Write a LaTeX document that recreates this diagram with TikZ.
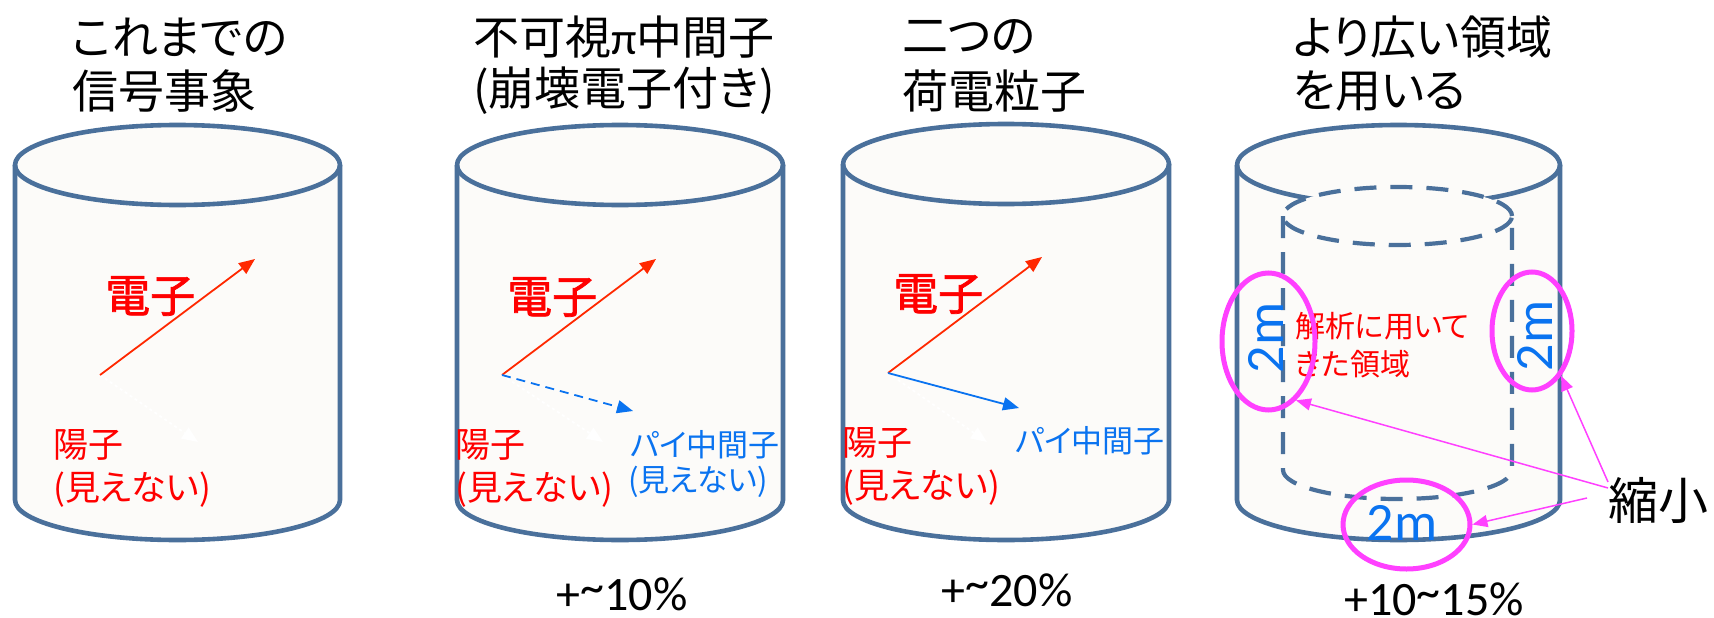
\documentclass[tikz,border=0pt]{standalone}
\usepackage{fontspec}
\setmainfont{Carlito}
\newfontfamily\lat{Carlito}
\newfontfamily\jp[RawFeature=+palt]{Noto Sans CJK JP}
\newfontfamily\jpb[RawFeature=+palt,FakeBold=1.6]{Noto Sans CJK JP}
\usetikzlibrary{arrows.meta,shapes.geometric}
\definecolor{canblue}{RGB}{74,112,155}
\definecolor{canbg}{RGB}{252,251,249}
\definecolor{ered}{RGB}{255,40,0}
\definecolor{myblue}{RGB}{10,115,240}
\definecolor{mag}{RGB}{255,64,255}
\newcommand{\mycan}[6]{%
 \path[canfill] ({#1-#2},#3) -- ({#1-#2},#4) arc[start angle=180,end angle=360,x radius=#2pt,y radius=#5pt] -- ({#1+#2},#3) arc[start angle=0,end angle=180,x radius=#2pt,y radius=#5pt] -- cycle;
 \draw[#6] ({#1-#2},#3) -- ({#1-#2},#4) arc[start angle=180,end angle=360,x radius=#2pt,y radius=#5pt] -- ({#1+#2},#3);
 \draw[#6] (#1,#3) ellipse[x radius=#2pt,y radius=#5pt];
}
\newcommand{\hitilde}{\raisebox{7pt}{\textasciitilde}}
\tikzset{
 canline/.style={draw=canblue, line width=4.6pt, line join=round},
 canfill/.style={fill=canbg},
 innerline/.style={draw=canblue, line width=4.2pt, dash pattern=on 22pt off 14pt},
 ttl/.style={anchor=west, inner sep=0pt, font=\jp\fontsize{46}{50}\selectfont},
 elab/.style={anchor=west, inner sep=0pt, text=red, font=\jpb\fontsize{45}{48}\selectfont},
 rlab/.style={anchor=west, inner sep=0pt, text=red, font=\jp\fontsize{35}{38}\selectfont},
 blab/.style={anchor=west, inner sep=0pt, text=myblue, font=\jp\fontsize{31}{34}\selectfont},
 alab/.style={anchor=west, inner sep=0pt, text=red, font=\jp\fontsize{30}{33}\selectfont},
 pct/.style={inner sep=2pt, font=\lat\fontsize{48}{50}\selectfont},
 twom/.style={inner sep=0pt, text=myblue, font=\lat\fontsize{54}{58}\selectfont},
 eline/.style={draw=ered, line width=1.8pt, -{Triangle[length=16pt,width=13pt]}},
 bline/.style={draw=myblue, line width=1.8pt, -{Triangle[length=16pt,width=13pt]}},
 wline/.style={draw=white, line width=1.8pt, dashed, -{Triangle[length=16pt,width=13pt]}},
 magell/.style={draw=mag, line width=5pt, ellipse, inner sep=0pt},
 magarrow/.style={draw=mag, line width=1.5pt, -{Triangle[length=15pt,width=12pt]}},
}
\begin{document}
\begin{tikzpicture}[x=1pt,y=-1pt]
\useasboundingbox (0,0) rectangle (1714,618);
\fill[white] (0,0) rectangle (1714,618);

% titles
\node[ttl] (t1a) at (72,37) {これまでの};
\node[ttl] (t1b) at (72,91) {信号事象};
\node[ttl] (t2a) at (473,37) {不可視{\lat π}中間子};
\node[ttl] (t2b) at (473,91) {(崩壊電子付き)};
\node[ttl] (t3a) at (902,37) {二つの};
\node[ttl] (t3b) at (902,91) {荷電粒子};
\node[ttl] (t4a) at (1293,37) {より広い領域};
\node[ttl] (t4b) at (1293,91) {を用いる};

% cylinders
\mycan{177.5}{162.5}{165}{500}{40}{canline}
\mycan{620}{163}{165}{500}{40}{canline}
\mycan{1006}{163}{164}{500}{40}{canline}
\mycan{1398.5}{161.5}{165}{500}{40}{canline}
\mycan{1397.5}{114.5}{216}{470}{29}{innerline}

% cylinder 1
\coordinate (v1) at (100,375);
\coordinate (ea1) at (255,259);
\coordinate (pa1) at (198,442);
\draw[wline] (v1) -- (pa1);
\draw[eline] (v1) -- (ea1);
\node[elab] (el1) at (105,296) {電子};
\node[rlab] (pr1) at (53,445) {陽子};
\node[rlab] (pi1) at (53,490) {(見えない)};

% cylinder 2
\coordinate (v2) at (502,375);
\coordinate (ea2) at (656,259);
\coordinate (pa2) at (603,442);
\coordinate (ba2) at (633,411);
\draw[wline] (v2) -- (pa2);
\draw[eline] (v2) -- (ea2);
\draw[bline, dash pattern=on 9pt off 6pt] (v2) -- (ba2);
\node[elab] (el2) at (507,297) {電子};
\node[rlab] (pr2) at (455,445) {陽子};
\node[rlab] (pi2) at (455,490) {(見えない)};
\node[blab] (bm2) at (630,445) {パイ中間子};
\node[blab] (bi2) at (628,482) {(見えない)};
\node[pct] (p1) at (622,594) {+\hitilde10\%};

% cylinder 3
\coordinate (v3) at (888,373);
\coordinate (ea3) at (1042,257);
\coordinate (pa3) at (987,442);
\coordinate (ba3) at (1019,408);
\draw[wline] (v3) -- (pa3);
\draw[eline] (v3) -- (ea3);
\draw[bline] (v3) -- (ba3);
\node[elab] (el3) at (893,294) {電子};
\node[rlab] (pr3) at (842,443) {陽子};
\node[rlab] (pi3) at (842,488) {(見えない)};
\node[blab] (bm3) at (1015,441) {パイ中間子};
\node[pct] (p2) at (1007,590) {+\hitilde20\%};

% cylinder 4
\node[alab] (an1) at (1295,326) {解析に用いて};
\node[alab] (an2) at (1295,364) {きた領域};
\node[twom, rotate=90] (m1) at (1266,338) {2m};
\node[twom, rotate=90] (m2) at (1535,336) {2m};
\node[twom] (m3) at (1402,523) {2m};
\node[magell, minimum width=93pt, minimum height=137pt] (c1) at (1268.5,341.5) {};
\node[magell, minimum width=80pt, minimum height=118pt] (c2) at (1532,331) {};
\node[magell, minimum width=127pt, minimum height=89pt] (c3) at (1406.5,524.5) {};
\node[anchor=west, inner sep=0pt, font=\jp\fontsize{50}{54}\selectfont] (shr) at (1608,500) {縮小};
\coordinate (s1) at (1608,488);
\coordinate (s2) at (1608,482);
\coordinate (s3) at (1587,498);
\draw[magarrow] (s1) -- (c1.-65);
\draw[magarrow] (s2) -- (c2.-57);
\draw[magarrow] (s3) -- (c3.east);
\node[pct] (p3) at (1434,599) {+10\hitilde15\%};
\end{tikzpicture}
\end{document}
